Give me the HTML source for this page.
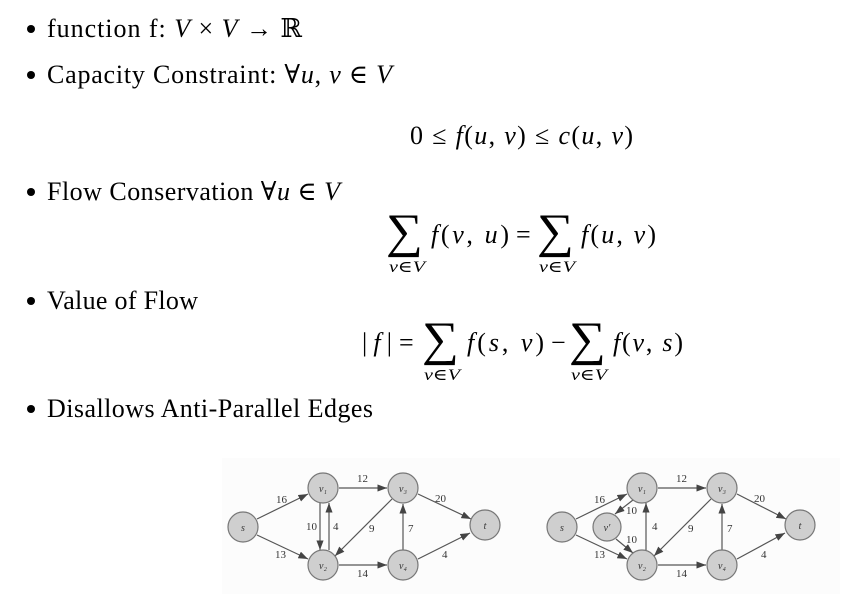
<!DOCTYPE html>
<html><head><meta charset="utf-8"><style>
html,body{margin:0;padding:0;background:#fff;}
svg{display:block;font-family:"Liberation Serif","DejaVu Serif",serif;}
.t{font-size:26px;fill:#000;}
.sub{font-size:16px;font-style:italic;}
.sum{font-size:48px;}
.n{fill:#cfcfcf;stroke:#777;stroke-width:1.2;}
.e{stroke:#555;stroke-width:1.2;fill:none;marker-end:url(#ah);}
.lb{font-size:11px;fill:#333;}
.nl{font-size:10px;font-style:italic;fill:#333;text-anchor:middle;}
</style></head><body>
<svg width="842" height="604" viewBox="0 0 842 604">
<defs><marker id="ah" markerWidth="8" markerHeight="6" refX="8" refY="3" orient="auto"><path d="M0,0L8,3L0,6z" fill="#444"/></marker></defs>

<g>
<circle cx="31" cy="29" r="4" fill="#000"/>
<text class="t" x="47" y="37" textLength="255" lengthAdjust="spacing">function f: <tspan font-style="italic">V</tspan> × <tspan font-style="italic">V</tspan> → ℝ</text></g>

<g>
<circle cx="31" cy="75" r="4" fill="#000"/>
<text class="t" x="47" y="83" textLength="345" lengthAdjust="spacing">Capacity Constraint: ∀<tspan font-style="italic">u</tspan>, <tspan font-style="italic">v</tspan> ∈ <tspan font-style="italic">V</tspan></text>
<text class="t" x="410" y="144" textLength="223" lengthAdjust="spacing">0 ≤ <tspan font-style="italic">f</tspan>(<tspan font-style="italic">u</tspan>, <tspan font-style="italic">v</tspan>) ≤ <tspan font-style="italic">c</tspan>(<tspan font-style="italic">u</tspan>, <tspan font-style="italic">v</tspan>)</text></g>

<g>
<circle cx="31" cy="192" r="4" fill="#000"/>
<text class="t" x="47" y="200" textLength="293" lengthAdjust="spacing">Flow Conservation ∀<tspan font-style="italic">u</tspan> ∈ <tspan font-style="italic">V</tspan></text>
<g>
<text class="sum" x="386" y="247" textLength="37" lengthAdjust="spacingAndGlyphs">∑</text>
<text class="sub" x="389" y="272" textLength="36" lengthAdjust="spacingAndGlyphs">v∈V</text>
<text class="t" x="431" y="243" textLength="78" lengthAdjust="spacing"><tspan font-style="italic">f</tspan>(<tspan font-style="italic">v</tspan>, <tspan font-style="italic">u</tspan>)</text>
<text class="t" x="516" y="243">=</text>
<text class="sum" x="537" y="247" textLength="37" lengthAdjust="spacingAndGlyphs">∑</text>
<text class="sub" x="539" y="272" textLength="36" lengthAdjust="spacingAndGlyphs">v∈V</text>
<text class="t" x="581" y="243" textLength="75" lengthAdjust="spacing"><tspan font-style="italic">f</tspan>(<tspan font-style="italic">u</tspan>, <tspan font-style="italic">v</tspan>)</text></g></g>

<g>
<circle cx="31" cy="301" r="4" fill="#000"/>
<text class="t" x="47" y="309" textLength="151" lengthAdjust="spacing">Value of Flow</text>
<g>
<text class="t" x="362" y="351" textLength="30" lengthAdjust="spacing">|<tspan font-style="italic">f</tspan>|</text>
<text class="t" x="399" y="351">=</text>
<text class="sum" x="422" y="355" textLength="37" lengthAdjust="spacingAndGlyphs">∑</text>
<text class="sub" x="424" y="380" textLength="36" lengthAdjust="spacingAndGlyphs">v∈V</text>
<text class="t" x="467" y="351" textLength="77" lengthAdjust="spacing"><tspan font-style="italic">f</tspan>(<tspan font-style="italic">s</tspan>, <tspan font-style="italic">v</tspan>)</text>
<text class="t" x="551" y="351">−</text>
<text class="sum" x="569" y="355" textLength="37" lengthAdjust="spacingAndGlyphs">∑</text>
<text class="sub" x="571" y="380" textLength="36" lengthAdjust="spacingAndGlyphs">v∈V</text>
<text class="t" x="613" y="351" textLength="70" lengthAdjust="spacing"><tspan font-style="italic">f</tspan>(<tspan font-style="italic">v</tspan>, <tspan font-style="italic">s</tspan>)</text></g></g>

<g>
<circle cx="31" cy="409" r="4" fill="#000"/>
<text class="t" x="47" y="417" textLength="326" lengthAdjust="spacing">Disallows Anti-Parallel Edges</text></g>

<rect x="222" y="458" width="618" height="136" fill="#fcfcfc"/>

<g>
<line class="e" x1="257" y1="519" x2="308" y2="494"/>
<line class="e" x1="257" y1="535" x2="308" y2="559"/>
<line class="e" x1="339" y1="488" x2="387" y2="488"/>
<line class="e" x1="320" y1="503" x2="320" y2="550"/>
<line class="e" x1="329" y1="550" x2="329" y2="503"/>
<line class="e" x1="392" y1="499" x2="335" y2="556"/>
<line class="e" x1="403" y1="550" x2="403" y2="504"/>
<line class="e" x1="339" y1="565" x2="387" y2="565"/>
<line class="e" x1="418" y1="494" x2="471" y2="519"/>
<line class="e" x1="418" y1="559" x2="470" y2="533"/>
<circle class="n" cx="243" cy="527" r="15"/><text class="nl" x="243" y="531">s</text>
<circle class="n" cx="323" cy="488" r="15"/><text class="nl" x="323" y="492">v₁</text>
<circle class="n" cx="403" cy="488" r="15"/><text class="nl" x="403" y="492">v₃</text>
<circle class="n" cx="485" cy="525" r="15"/><text class="nl" x="485" y="529">t</text>
<circle class="n" cx="323" cy="565" r="15"/><text class="nl" x="323" y="569">v₂</text>
<circle class="n" cx="403" cy="565" r="15"/><text class="nl" x="403" y="569">v₄</text>
<text class="lb" x="276" y="503">16</text><text class="lb" x="275" y="558">13</text>
<text class="lb" x="357" y="482">12</text><text class="lb" x="306" y="530">10</text>
<text class="lb" x="333" y="530">4</text><text class="lb" x="369" y="532">9</text>
<text class="lb" x="408" y="532">7</text><text class="lb" x="357" y="577">14</text>
<text class="lb" x="435" y="502">20</text><text class="lb" x="442" y="558">4</text>
</g>

<g>
<line class="e" x1="576" y1="519" x2="627" y2="494"/>
<line class="e" x1="576" y1="535" x2="627" y2="559"/>
<line class="e" x1="633" y1="500" x2="615" y2="514"/>
<line class="e" x1="616" y1="539" x2="633" y2="553"/>
<line class="e" x1="658" y1="488" x2="706" y2="488"/>
<line class="e" x1="646" y1="550" x2="646" y2="503"/>
<line class="e" x1="711" y1="499" x2="654" y2="556"/>
<line class="e" x1="722" y1="550" x2="722" y2="504"/>
<line class="e" x1="658" y1="565" x2="706" y2="565"/>
<line class="e" x1="737" y1="494" x2="786" y2="519"/>
<line class="e" x1="737" y1="559" x2="785" y2="533"/>
<circle class="n" cx="562" cy="527" r="15"/><text class="nl" x="562" y="531">s</text>
<circle class="n" cx="607" cy="527" r="14"/><text class="nl" x="607" y="531">v′</text>
<circle class="n" cx="642" cy="488" r="15"/><text class="nl" x="642" y="492">v₁</text>
<circle class="n" cx="722" cy="488" r="15"/><text class="nl" x="722" y="492">v₃</text>
<circle class="n" cx="800" cy="525" r="15"/><text class="nl" x="800" y="529">t</text>
<circle class="n" cx="642" cy="565" r="15"/><text class="nl" x="642" y="569">v₂</text>
<circle class="n" cx="722" cy="565" r="15"/><text class="nl" x="722" y="569">v₄</text>
<text class="lb" x="594" y="503">16</text><text class="lb" x="594" y="558">13</text>
<text class="lb" x="626" y="514">10</text><text class="lb" x="626" y="543">10</text>
<text class="lb" x="676" y="482">12</text><text class="lb" x="652" y="530">4</text>
<text class="lb" x="688" y="532">9</text><text class="lb" x="727" y="532">7</text>
<text class="lb" x="676" y="577">14</text><text class="lb" x="754" y="502">20</text>
<text class="lb" x="761" y="558">4</text>
</g>
</svg>
</body></html>
